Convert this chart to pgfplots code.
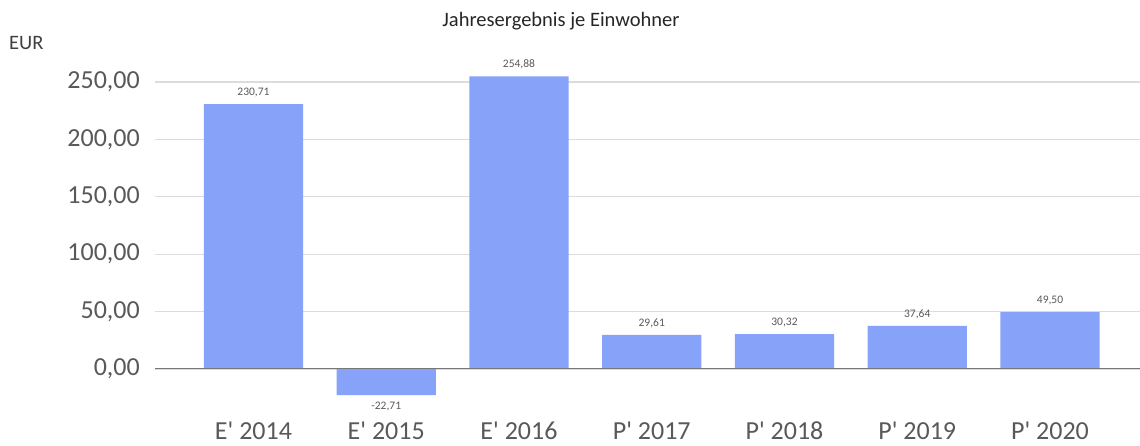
\documentclass[border=0pt]{standalone}
\usepackage{fontspec}
\setmainfont{Carlito}[Ligatures=TeXOff]
\usepackage{pgfplots}
\pgfplotsset{compat=1.18}
\definecolor{barblue}{HTML}{87A2F9}
\definecolor{gridgray}{HTML}{DCDCDC}
\definecolor{txt}{HTML}{595959}
\definecolor{zeroline}{HTML}{767676}
\begin{document}
\begin{tikzpicture}
\useasboundingbox (-155pt,-31.1pt) rectangle (985pt,414.9pt);
\begin{axis}[
  scale only axis, width=985pt, height=350.14pt,
  xmin=-0.742, xmax=6.678, ymin=-40, ymax=265,
  axis line style={draw=none},
  clip=false,
  ybar, bar width=0.746,
  xtick={0,...,6},
  xticklabels={E' 2014,E' 2015,E' 2016,P' 2017,P' 2018,P' 2019,P' 2020},
  ytick={0,50,100,150,200,250},
  yticklabels={{0,00},{50,00},{100,00},{150,00},{200,00},{250,00}},
  ymajorgrids, grid style={gridgray, line width=1.2pt},
  major tick length=0pt,
  tick label style={font=\fontsize{26}{30}\selectfont, text=txt},
  yticklabel style={inner xsep=0pt, xshift=-15pt},
  xticklabel style={inner ysep=0pt, yshift=-7pt},
  nodes near coords, point meta=y,
  nodes near coords style={font=\fontsize{11.5}{13}\selectfont, text=txt, inner xsep=0pt, inner ysep=7pt,
    /pgf/number format/.cd, use comma, fixed, fixed zerofill, precision=2, assume math mode=true},
]
\addplot[fill=barblue, draw=none] coordinates {
  (0,230.71) (1,-22.71) (2,254.88) (3,29.61) (4,30.32) (5,37.64) (6,49.50)};
\draw[zeroline, line width=1pt] (axis cs:-0.742,0) -- (axis cs:6.678,0);
\end{axis}
\node[anchor=base, font=\fontsize{20.5}{24}\selectfont, text=black!85] at (406pt,387.9pt) {Jahresergebnis je Einwohner};
\node[anchor=base west, inner sep=0pt, font=\fontsize{20.5}{24}\selectfont, text=black!75] at (-146pt,364.9pt) {EUR};
\end{tikzpicture}
\end{document}
